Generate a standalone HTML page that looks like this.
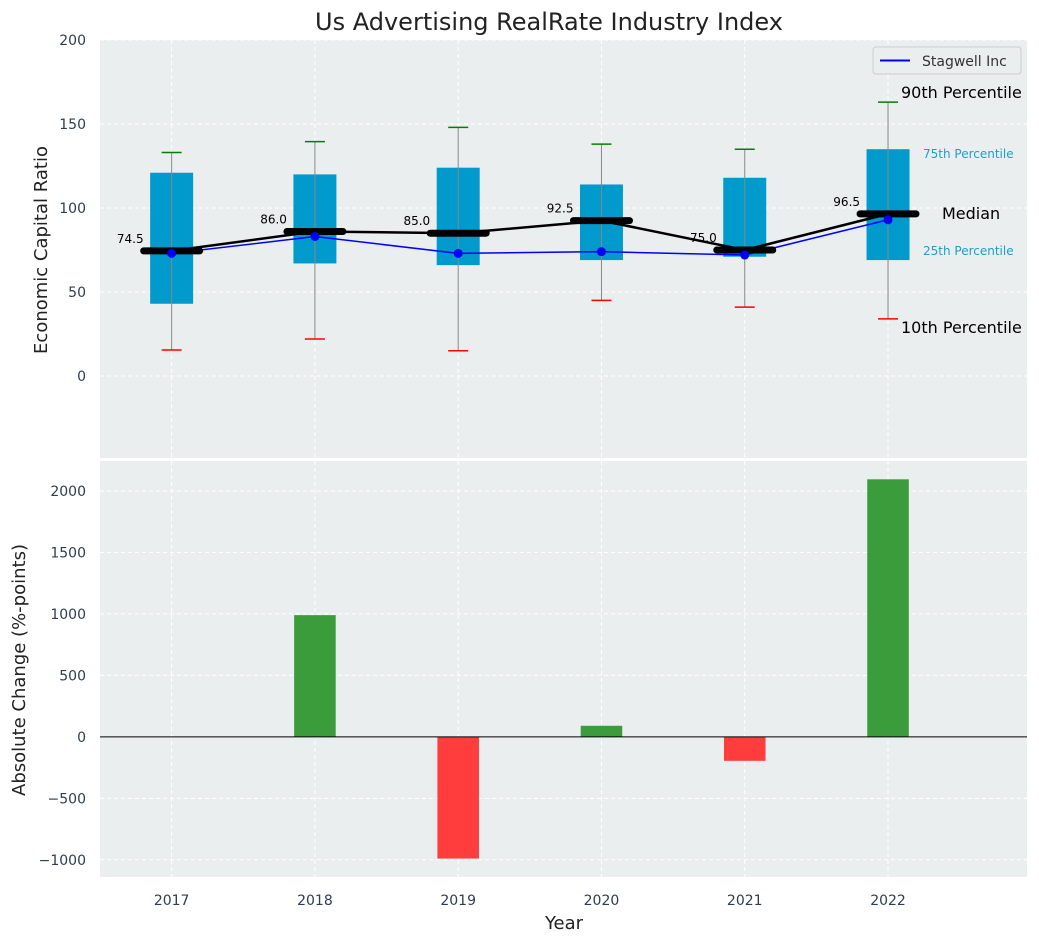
<!DOCTYPE html>
<html><head><meta charset="utf-8"><style>
body{margin:0;background:#fff;font-family:"Liberation Sans","DejaVu Sans",sans-serif}
svg text{font-family:"DejaVu Sans","Liberation Sans",sans-serif}
</style></head><body>
<svg id="c" width="1039" height="942" xmlns="http://www.w3.org/2000/svg"></svg>
<script>
const years=[2017,2018,2019,2020,2021,2022];
const p10=[15.5,22,15,45,41,34];
const p25=[43,67,66,69,71,69];
const p50=[74.5,86,85,92.5,75,96.5];
const p75=[121,120,124,114,118,135];
const p90=[133,139.5,148,138,135,163];
const stagwell=[73,83,73,74,72,93];
const changes=[0,990,-990,90,-195,2095];
const topTicks=[0,50,100,150,200];
const botTicks=[-1000,-500,0,500,1000,1500,2000];

const svg=document.getElementById('c');const NS='http://www.w3.org/2000/svg';
function el(t,a,p){const e=document.createElementNS(NS,t);for(const k in a)e.setAttribute(k,a[k]);(p||svg).appendChild(e);return e;}
const L=100,R=1027;
const x=v=>L+(v-2016.5)/(2022.97-2016.5)*(R-L);
const yT=v=>40+(200-v)/250*420;
const yB=v=>460+(2252-v)/(2252+1140)*417;
const tc='#2e3d4f';
const title=el('text',{x:549,y:30,'text-anchor':'middle','font-size':24,fill:'#222'});title.textContent='Us Advertising RealRate Industry Index';

const tp=el('rect',{x:L,y:40,width:R-L,height:418,fill:'#ebeeee'});

const bp=el('rect',{x:L,y:461,width:R-L,height:416,fill:'#ebeeee'});

years.forEach(yr=>{el('line',{x1:x(yr),x2:x(yr),y1:40,y2:458,stroke:'#fff','stroke-dasharray':'4,3'});el('line',{x1:x(yr),x2:x(yr),y1:461,y2:877,stroke:'#fff','stroke-dasharray':'4,3'});
const t=el('text',{x:x(yr),y:905,'text-anchor':'middle','font-size':14,fill:tc});t.textContent=yr;
});
topTicks.forEach(v=>{el('line',{x1:L,x2:R,y1:yT(v),y2:yT(v),stroke:'#fff','stroke-dasharray':'4,3'});
const t=el('text',{x:86,y:yT(v)+5,'text-anchor':'end','font-size':14,fill:tc});t.textContent=v;
});
botTicks.forEach(v=>{el('line',{x1:L,x2:R,y1:yB(v),y2:yB(v),stroke:'#fff','stroke-dasharray':'4,3'});
const t=el('text',{x:86,y:yB(v)+5,'text-anchor':'end','font-size':14,fill:tc});t.textContent=String(v).replace('-','\u2212');
});
const bw=x(2017.15)-x(2016.85);
years.forEach((yr,i)=>{const cx=x(yr);
const b=el('rect',{x:cx-bw/2,y:yT(p75[i]),width:bw,height:yT(p25[i])-yT(p75[i]),fill:'#009acd'});

el('line',{x1:cx,x2:cx,y1:yT(p90[i]),y2:yT(p10[i]),stroke:'#888','stroke-width':1});
el('line',{x1:cx-10,x2:cx+10,y1:yT(p90[i]),y2:yT(p90[i]),stroke:'green','stroke-width':1.5});
el('line',{x1:cx-10,x2:cx+10,y1:yT(p10[i]),y2:yT(p10[i]),stroke:'red','stroke-width':1.5});
});
el('polyline',{points:years.map((yr,i)=>x(yr)+','+yT(p50[i])).join(' '),fill:'none',stroke:'#000','stroke-width':2.5});
el('polyline',{points:years.map((yr,i)=>x(yr)+','+yT(stagwell[i])).join(' '),fill:'none',stroke:'blue','stroke-width':1.5});
years.forEach((yr,i)=>{const cx=x(yr);
const m=el('line',{x1:cx-28,x2:cx+28,y1:yT(p50[i]),y2:yT(p50[i]),stroke:'#000','stroke-width':7,'stroke-linecap':'round'});

const d=el('circle',{cx:cx,cy:yT(stagwell[i]),r:4.5,fill:'blue'});

const t=el('text',{x:cx-28,y:yT(p50[i])-8,'text-anchor':'end','font-size':12,fill:'#000'});t.textContent=p50[i].toFixed(1);

});
[['90th Percentile',901,98,16,'#000'],['75th Percentile',923,158,12,'#1a9fcf'],['Median',942,219,16,'#000'],['25th Percentile',923,255,12,'#1a9fcf'],['10th Percentile',901,333,16,'#000']].forEach(a=>{
const t=el('text',{x:a[1],y:a[2],'font-size':a[3],fill:a[4]});t.textContent=a[0];
});
const lg=el('g',{});
el('rect',{x:873,y:47,width:148,height:27,rx:3,fill:'#ebeeee',stroke:'#ccc'},lg);
el('line',{x1:880,x2:910,y1:60.5,y2:60.5,stroke:'blue','stroke-width':2},lg);
const lt=el('text',{x:922,y:66,'font-size':14,fill:'#333'},lg);lt.textContent='Stagwell Inc';
const barW=x(2017.145)-x(2016.855);
years.forEach((yr,i)=>{if(!changes[i])return;const v=changes[i];
const r=el('rect',{x:x(yr)-barW/2,y:Math.min(yB(v),yB(0)),width:barW,height:Math.abs(yB(v)-yB(0)),fill:v>0?'#3a9c3a':'#ff3d3d'});
});
el('line',{x1:L,x2:R,y1:yB(0),y2:yB(0),stroke:'#000','stroke-width':1});
const a1=el('text',{x:47,y:250,'text-anchor':'middle','font-size':18,fill:'#222',transform:'rotate(-90 47 250)'});a1.textContent='Economic Capital Ratio';

const a2=el('text',{x:25,y:670,'text-anchor':'middle','font-size':18,fill:'#222',transform:'rotate(-90 25 670)'});a2.textContent='Absolute Change (%-points)';

const a3=el('text',{x:564,y:929,'text-anchor':'middle','font-size':18,fill:'#222'});a3.textContent='Year';

</script>
</body></html>
